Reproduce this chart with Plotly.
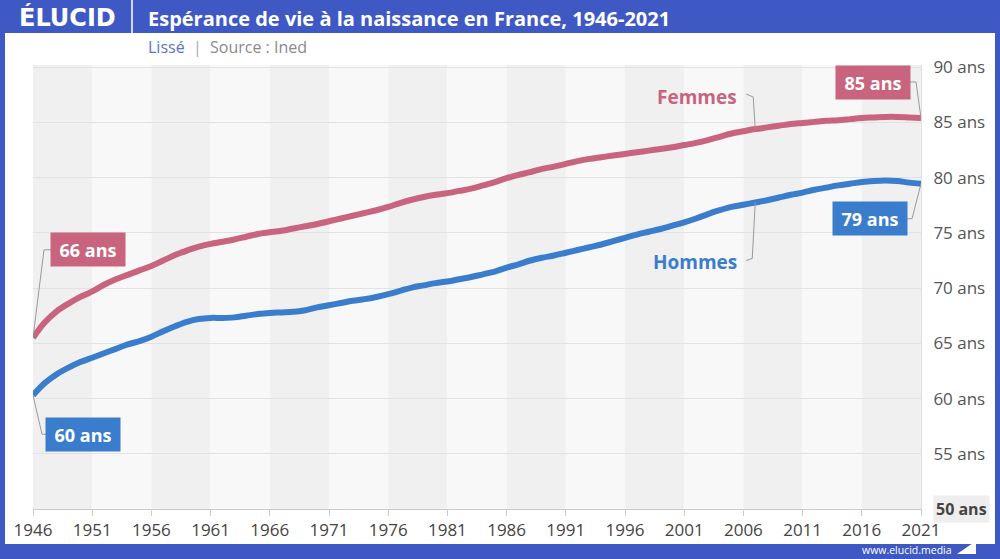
import plotly.graph_objects as go

years = list(range(1946, 2022))

femmes = [65.5, 66.9, 67.9, 68.6, 69.2, 69.7, 70.3, 70.8, 71.2, 71.6,
          72.0, 72.5, 73.0, 73.4, 73.75, 74.0, 74.2, 74.4, 74.65, 74.9,
          75.05, 75.2, 75.4, 75.6, 75.8, 76.05, 76.3, 76.55, 76.8, 77.05,
          77.35, 77.7, 78.0, 78.25, 78.45, 78.6, 78.8, 79.0, 79.3, 79.6,
          79.95, 80.25, 80.5, 80.8, 81.0, 81.25, 81.5, 81.7, 81.85, 82.0,
          82.15, 82.3, 82.45, 82.6, 82.75, 82.95, 83.15, 83.4, 83.7, 84.0,
          84.2, 84.4, 84.55, 84.7, 84.85, 84.95, 85.05, 85.15, 85.2, 85.3,
          85.4, 85.45, 85.5, 85.5, 85.45, 85.4]

hommes = [60.3, 61.4, 62.2, 62.8, 63.3, 63.7, 64.1, 64.5, 64.9, 65.2,
          65.6, 66.1, 66.55, 66.95, 67.2, 67.3, 67.3, 67.35, 67.5, 67.65,
          67.75, 67.8, 67.85, 68.0, 68.25, 68.45, 68.65, 68.85, 69.0, 69.2,
          69.45, 69.75, 70.05, 70.25, 70.45, 70.6, 70.8, 71.0, 71.25, 71.5,
          71.85, 72.15, 72.5, 72.75, 72.95, 73.2, 73.45, 73.7, 73.95, 74.25,
          74.55, 74.85, 75.1, 75.35, 75.65, 75.95, 76.3, 76.7, 77.05, 77.35,
          77.55, 77.75, 77.95, 78.2, 78.45, 78.65, 78.9, 79.1, 79.3, 79.45,
          79.6, 79.7, 79.75, 79.7, 79.55, 79.45]

x_ticks = list(range(1946, 2022, 5))
y_ticks = [55, 60, 65, 70, 75, 80, 85, 90]
y_tick_text = [f"{v} ans" for v in y_ticks]

title = "Espérance de vie à la naissance en France, 1946-2021"

PINK = "#c8647e"
BLUE = "#3b7dcd"
FRAME = "#3f59c4"
FONT = "Open Sans"

W, H = 1000, 559
ML, MR, MT, MB = 33, 79, 65, 50
PW, PH = W - ML - MR, H - MT - MB


def px(x):
    return (x - ML) / PW


def py(y):
    return (H - MB - y) / PH


fig = go.Figure()
fig.add_trace(go.Scatter(x=years, y=femmes, mode="lines", name="Femmes",
                         line=dict(color=PINK, width=6, shape="spline"),
                         hoverinfo="skip"))
fig.add_trace(go.Scatter(x=years, y=hommes, mode="lines", name="Hommes",
                         line=dict(color=BLUE, width=6, shape="spline"),
                         hoverinfo="skip"))

shapes = []
# white panel
shapes.append(dict(type="rect", xref="paper", yref="paper", layer="below",
                   x0=px(5), x1=px(995), y0=py(544), y1=py(33),
                   fillcolor="white", line=dict(width=0)))
# header separator
shapes.append(dict(type="line", xref="paper", yref="paper",
                   x0=px(132), x1=px(132), y0=py(0), y1=py(33),
                   line=dict(color="white", width=1.5)))
# alternating bands
for i, x0 in enumerate(x_ticks[:-1]):
    shapes.append(dict(type="rect", xref="x", yref="paper", layer="below",
                       x0=x0, x1=x0 + 5, y0=0, y1=1,
                       fillcolor="#f0f0f0" if i % 2 == 0 else "#f8f8f8",
                       line=dict(width=0)))


def connector(xa, ya, path):
    return dict(type="path", xref="x", yref="y", xsizemode="pixel", ysizemode="pixel",
                xanchor=xa, yanchor=ya, path=path,
                line=dict(color="#9a9a9a", width=1))


i07 = years.index(2007)
shapes.append(connector(years[0], femmes[0], "M0,0 L11,88 L18,88"))
shapes.append(connector(years[0], hommes[0], "M0,0 L9,-39 L13,-39"))
shapes.append(connector(years[-1], femmes[-1], "M0,0 L-5,36 L-11,36"))
shapes.append(connector(years[-1], hommes[-1], "M0,0 L-9,-35 L-14,-35"))
shapes.append(connector(years[i07], femmes[i07], "M0,0 L-2,32 L-9,35"))
shapes.append(connector(years[i07], hommes[i07], "M0,0 L-3,-56 L-9,-58"))

# footer logo
shapes.append(dict(type="path", xref="paper", yref="paper",
                   path=f"M{px(957)},{py(554)} L{px(976)},{py(554)} L{px(976)},{py(541)} Z",
                   fillcolor="white", line=dict(width=0)))

annotations = []


def box(xv, yv, xs, ys, color):
    return dict(x=xv, y=yv, xref="x", yref="y", xshift=xs, yshift=ys,
                text=f"<b>{int(yv + 0.5)} ans</b>", showarrow=False,
                font=dict(family=FONT, size=18, color="white"),
                bgcolor=color, borderpad=6, width=62, height=21)


annotations.append(box(years[0], femmes[0], 55, 88, PINK))
annotations.append(box(years[0], hommes[0], 50, -39, BLUE))
annotations.append(box(years[-1], femmes[-1], -48, 36, PINK))
annotations.append(box(years[-1], hommes[-1], -51, -35, BLUE))
annotations.append(dict(x=years[i07], y=femmes[i07], xref="x", yref="y",
                        xshift=-58, yshift=32, text="<b>Femmes</b>", showarrow=False,
                        font=dict(family=FONT, size=19, color=PINK)))
annotations.append(dict(x=years[i07], y=hommes[i07], xref="x", yref="y",
                        xshift=-60, yshift=-59, text="<b>Hommes</b>", showarrow=False,
                        font=dict(family=FONT, size=19, color=BLUE)))
# header
annotations.append(dict(x=px(67), y=py(17), xref="paper", yref="paper",
                        text="<b>ÉLUCID</b>", showarrow=False, xanchor="center", yanchor="middle",
                        font=dict(family="DejaVu Sans", size=24, color="white")))
annotations.append(dict(x=px(146), y=py(18), xref="paper", yref="paper",
                        text=f"<b>{title}</b>", showarrow=False, xanchor="left", yanchor="middle",
                        font=dict(family=FONT, size=20, color="white")))
annotations.append(dict(x=px(146), y=py(47), xref="paper", yref="paper",
                        text="<span style='color:#5a72c8'>Lissé</span>"
                             "<span style='color:#aaaaaa'>  |  </span>Source : Ined",
                        showarrow=False, xanchor="left", yanchor="middle",
                        font=dict(family=FONT, size=16, color="#8a8a8a")))
# 50 ans tick
annotations.append(dict(x=px(961), y=py(509), xref="paper", yref="paper",
                        text="<b>50 ans</b>", showarrow=False, xanchor="center", yanchor="middle",
                        font=dict(family=FONT, size=16, color="#444444"),
                        bgcolor="#eeeeee", borderpad=2))
# footer
annotations.append(dict(x=px(954), y=py(550), xref="paper", yref="paper",
                        text="www.elucid.media", showarrow=False, xanchor="right", yanchor="middle",
                        font=dict(family=FONT, size=10.5, color="white")))

fig.update_layout(
    width=W, height=H,
    margin=dict(l=ML, r=MR, t=MT, b=MB),
    paper_bgcolor=FRAME, plot_bgcolor="rgba(0,0,0,0)",
    showlegend=False,
    shapes=shapes, annotations=annotations,
    font=dict(family=FONT),
    xaxis=dict(range=[1946, 2021], tickvals=x_ticks, ticktext=[str(v) for v in x_ticks],
               showgrid=False, zeroline=False, showline=True, linecolor="#cccccc",
               ticks="outside", ticklen=6, tickcolor="#cccccc",
               tickfont=dict(family=FONT, size=17, color="#444444")),
    yaxis=dict(range=[50, 90.2], side="right", tickvals=y_ticks, ticktext=y_tick_text,
               showgrid=True, gridcolor="#e2e2e2", gridwidth=1, zeroline=False,
               showline=True, linecolor="#e0e0e0", ticks="", ticklabelstandoff=8,
               tickfont=dict(family=FONT, size=17, color="#555555")),
)

fig.write_html("out.html", config={"displayModeBar": False},
               post_script="document.body.style.margin='0';document.body.style.padding='0';")
